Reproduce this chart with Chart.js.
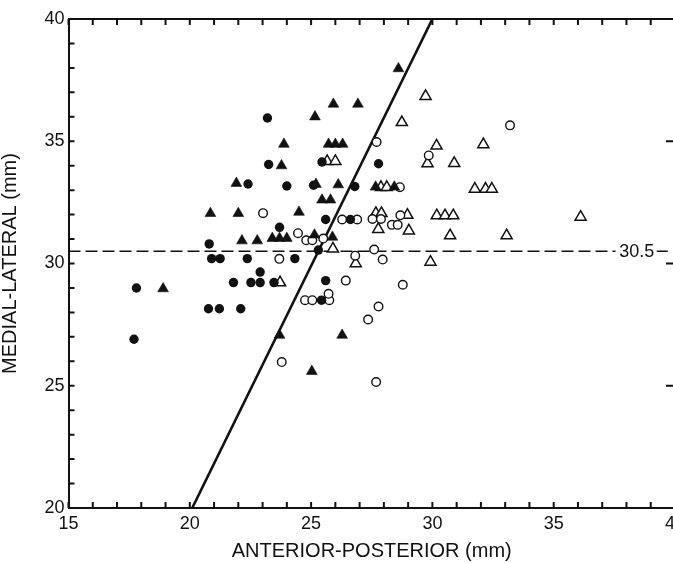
<!DOCTYPE html>
<html>
<head>
<meta charset="utf-8">
<script src="https://cdn.jsdelivr.net/npm/chart.js@4.4.0/dist/chart.umd.min.js"></script>
<style>
  html, body { margin: 0; padding: 0; background: #fff; overflow: hidden; }
  #wrap { width: 690px; height: 563px; }
</style>
</head>
<body>
<div id="wrap"><canvas id="chart"></canvas></div>
<script>
// [anterior-posterior, medial-lateral] in mm
var filledCircles = [
  [17.7, 26.9], [17.8, 29.0], [23.2, 35.95], [23.25, 34.05], [22.4, 33.25],
  [24.0, 33.17], [23.7, 31.48], [20.8, 30.8], [20.9, 30.2], [21.25, 30.2],
  [22.37, 30.2], [24.33, 30.2], [22.9, 29.65], [21.8, 29.22], [22.52, 29.22],
  [22.9, 29.22], [23.47, 29.22], [20.77, 28.15], [21.22, 28.15], [22.1, 28.15],
  [25.3, 30.55], [25.6, 29.3], [25.43, 28.5], [25.6, 31.8], [26.62, 31.8],
  [25.45, 34.15], [27.78, 34.08], [25.1, 33.2], [26.8, 33.15]
];
var filledTriangles = [
  [18.9, 28.97], [20.85, 32.05], [22.0, 32.05], [21.92, 33.28], [22.15, 30.93],
  [22.78, 30.93], [23.4, 31.03], [23.7, 31.03], [24.0, 31.03], [23.78, 34.0],
  [23.88, 34.88], [24.5, 32.1], [25.16, 36.0], [25.92, 36.52], [26.93, 36.52],
  [25.72, 34.88], [26.0, 34.88], [26.3, 34.88], [28.6, 37.97], [25.2, 33.24],
  [26.12, 33.22], [25.45, 32.6], [25.8, 32.6], [25.14, 31.17], [25.88, 31.08],
  [23.7, 27.07], [26.28, 27.07], [25.03, 25.59], [27.66, 33.13], [28.43, 33.13]
];
var openCircles = [
  [23.02, 32.06], [23.69, 30.19], [24.46, 31.24], [24.8, 30.95], [25.05, 30.95],
  [25.5, 31.02], [26.28, 31.8], [26.9, 31.8], [26.43, 29.3], [26.82, 30.32],
  [24.75, 28.5], [25.05, 28.5], [25.75, 28.5], [25.72, 28.76], [23.79, 25.97],
  [27.7, 34.97], [27.53, 31.82], [27.88, 31.82], [27.6, 30.57], [27.95, 30.16],
  [27.35, 27.71], [27.78, 28.24], [27.68, 25.15], [28.78, 29.13], [28.33, 31.58],
  [28.57, 31.58], [28.68, 31.97], [29.85, 34.42], [33.2, 35.65], [28.66, 33.12]
];
var openTriangles = [
  [23.72, 29.22], [25.66, 34.18], [26.0, 34.18], [25.9, 30.6], [26.84, 30.0],
  [27.88, 33.12], [28.12, 33.12], [27.67, 32.05], [27.9, 32.05], [27.77, 31.4],
  [28.97, 31.98], [29.03, 31.34], [28.74, 35.77], [29.72, 36.84], [29.8, 34.09],
  [30.17, 34.81], [30.9, 34.1], [32.1, 34.87], [31.75, 33.05], [32.19, 33.05],
  [32.45, 33.05], [30.18, 31.96], [30.52, 31.96], [30.86, 31.96], [36.11, 31.9],
  [30.73, 31.14], [33.06, 31.14], [29.92, 30.06]
];

// solid dividing line and the 30.5 mm cut-off
var dividerX = [20.1, 30.0];
var dividerY = [20, 40];
var cutoffValue = 30.5;
var cutoffStartX = [15, 39.25];
var cutoffEndX = [37.55, 39.7];

var ink = '#111';

function toPoints(list) {
  return list.map(function(p) { return { x: p[0], y: p[1] }; });
}

var datasets = [
  { data: toPoints(filledCircles), pointStyle: 'circle', pointRadius: 4.7,
    backgroundColor: ink, borderColor: ink, borderWidth: 0 },
  { data: toPoints(filledTriangles), pointStyle: 'triangle', pointRadius: 6.2,
    backgroundColor: ink, borderColor: ink, borderWidth: 0.6 },
  { data: toPoints(openCircles), pointStyle: 'circle', pointRadius: 4.3,
    backgroundColor: '#fff', borderColor: ink, borderWidth: 1.4 },
  { data: toPoints(openTriangles), pointStyle: 'triangle', pointRadius: 6.4,
    backgroundColor: '#fff', borderColor: ink, borderWidth: 1.5 },
  { data: [{ x: dividerX[0], y: dividerY[0] }, { x: dividerX[1], y: dividerY[1] }],
    showLine: true, pointRadius: 0, borderColor: ink, borderWidth: 2.6 }
];
for (var i = 0; i < cutoffStartX.length; i++) {
  datasets.push({
    data: [{ x: cutoffStartX[i], y: cutoffValue }, { x: cutoffEndX[i], y: cutoffValue }],
    showLine: true, pointRadius: 0, borderColor: ink, borderWidth: 1.5,
    borderDash: [12, 5]
  });
}

// box round the plot with ticks pointing inwards, plus the 30.5 label
var frameTicks = {
  id: 'frameTicks',
  afterDraw: function(chart) {
    var ctx = chart.ctx, a = chart.chartArea;
    var xs = chart.scales.x, ys = chart.scales.y;
    ctx.save();
    ctx.strokeStyle = ink;
    ctx.lineWidth = 2;
    ctx.beginPath();
    ctx.moveTo(a.left, a.top);
    ctx.lineTo(a.right, a.top);
    ctx.lineTo(a.right, a.bottom);
    ctx.stroke();

    ctx.lineWidth = 2;
    ctx.beginPath();
    for (var v = xs.min; v <= xs.max; v += 1) {
      var px = xs.getPixelForValue(v);
      ctx.moveTo(px, a.bottom); ctx.lineTo(px, a.bottom - 6);
      ctx.moveTo(px, a.top); ctx.lineTo(px, a.top + 6);
    }
    for (var w = ys.min; w <= ys.max; w += 1) {
      var py = ys.getPixelForValue(w);
      ctx.moveTo(a.left, py); ctx.lineTo(a.left + 6, py);
      if (w % 5 === 0) { ctx.moveTo(a.right, py); ctx.lineTo(a.right - 9, py); }
    }
    ctx.stroke();

    ctx.fillStyle = ink;
    ctx.font = '18px "Liberation Sans", Arial, sans-serif';
    ctx.textAlign = 'center';
    ctx.textBaseline = 'middle';
    ctx.fillText('30.5', xs.getPixelForValue(38.42), ys.getPixelForValue(cutoffValue) + 1);
    ctx.restore();
  }
};

var tickFont = { family: '"Liberation Sans", Arial, sans-serif', size: 18 };
var titleFont = { family: '"Liberation Sans", Arial, sans-serif', size: 20, lineHeight: 1.2 };

function majorOnly(v) { return v % 5 === 0 ? v : ''; }

new Chart(document.getElementById('chart'), {
  type: 'scatter',
  data: { datasets: datasets },
  options: {
    responsive: true,
    maintainAspectRatio: false,
    animation: false,
    layout: { padding: { top: 19, right: 12, bottom: 0, left: 0 } },
    plugins: { legend: { display: false }, tooltip: { enabled: false } },
    scales: {
      x: {
        type: 'linear', min: 15, max: 40,
        grid: { display: true, drawOnChartArea: false, drawTicks: false },
        border: { display: true, color: ink, width: 2 },
        ticks: { stepSize: 1, autoSkip: false, maxRotation: 0, padding: 5,
                 color: ink, font: tickFont, callback: majorOnly },
        title: { display: true, text: 'ANTERIOR-POSTERIOR (mm)', color: ink,
                 font: titleFont, padding: { top: 0, bottom: 0 } },
        afterFit: function(scale) { scale.height = 55; }
      },
      y: {
        type: 'linear', min: 20, max: 40,
        grid: { display: true, drawOnChartArea: false, drawTicks: false },
        border: { display: true, color: ink, width: 2 },
        ticks: { stepSize: 1, autoSkip: false, padding: 4,
                 color: ink, font: tickFont, callback: majorOnly },
        title: { display: true, text: 'MEDIAL-LATERAL (mm)', color: ink,
                 font: { family: titleFont.family, size: 20, lineHeight: 1 },
                 padding: { top: 0, bottom: 0 } },
        afterFit: function(scale) { scale.width = 68.5; }
      }
    }
  },
  plugins: [frameTicks]
});
</script>
</body>
</html>
